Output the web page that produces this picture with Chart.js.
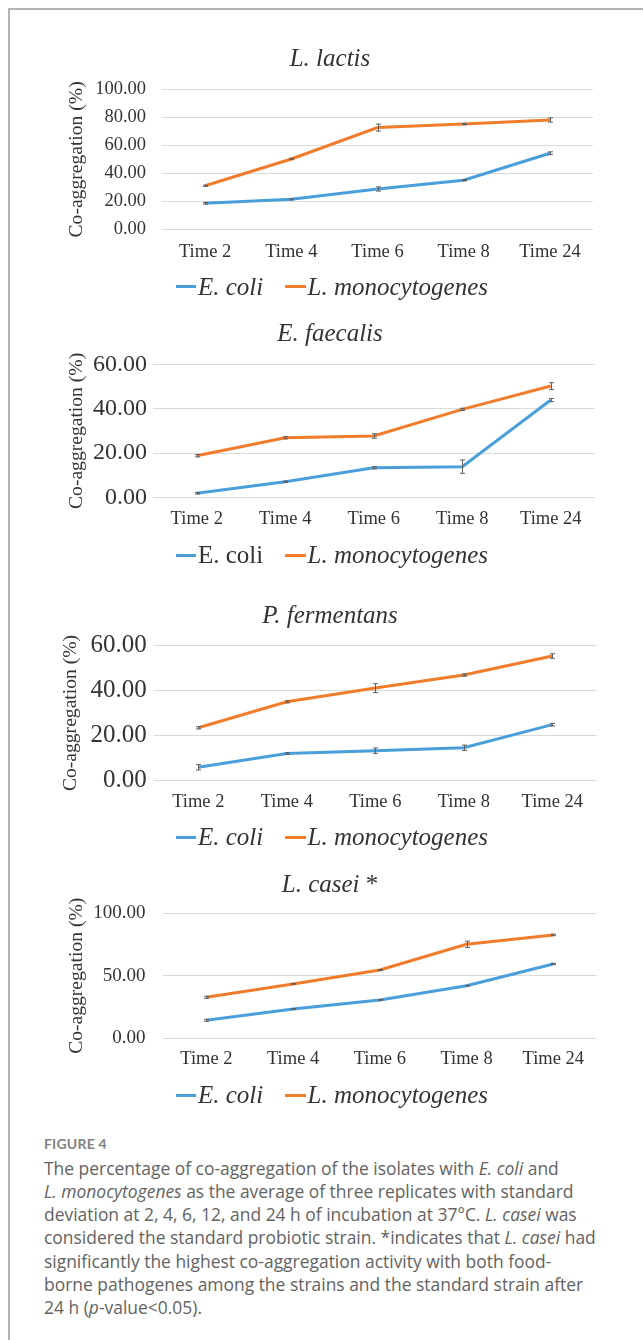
<!DOCTYPE html>
<html><head><meta charset="utf-8">
<script src="https://cdn.jsdelivr.net/npm/chart.js@4.4.0/dist/chart.umd.min.js"></script>
<style>
html,body{margin:0;padding:0;background:#fff;width:643px;height:1340px;overflow:hidden;position:relative}
#card{position:absolute;left:8px;top:8px;width:700px;height:1400px;border-left:2px solid #b4b4b4;border-top:2px solid #b4b4b4;box-sizing:border-box}
canvas{position:absolute;left:0}
.t{position:absolute;font-family:"Liberation Serif","Times New Roman",serif;color:#333;white-space:nowrap}
.ttl{font-size:25px;line-height:30px;font-style:italic;transform:translateX(-50%)}
.lg{font-size:25px;line-height:30px}
.ln{position:absolute;height:3px}
#fig{position:absolute;left:44px;font-family:Lato,"Open Sans",sans-serif;font-weight:700;font-size:14px;line-height:18px;color:#828282;letter-spacing:0.2px}
#cap{position:absolute;left:44px;font-family:"Open Sans",Lato,sans-serif;font-size:16px;line-height:23.3px;color:#636363;white-space:nowrap}
</style></head>
<body>
<div id="card"></div>
<div id="wrap"></div>
<div id="fig" style="top:1135px">FIGURE 4</div>
<div id="cap" style="top:1156.5px">The percentage of co-aggregation of the isolates with <i>E. coli</i> and<br><i>L. monocytogenes</i> as the average of three replicates with standard<br>deviation at 2, 4, 6, 12, and 24 h of incubation at 37°C. <i>L. casei</i> was<br>considered the standard probiotic strain. *indicates that <i>L. casei</i> had<br>significantly the highest co-aggregation activity with both food-<br><span id="fitline">borne pathogenes among the strains and the standard strain after</span><br>24 h (<i>p</i>-value&lt;0.05).</div>
<script>
// ---- data ----
const categories = ["Time 2","Time 4","Time 6","Time 8","Time 24"];
const seriesNames = ["E. coli","L. monocytogenes"];
const chartTitles = ["L. lactis","E. faecalis","P. fermentans","L. casei"];
const yAxisTitle = "Co-aggregation (%)";

const lactisEcoli      = [18.7, 21.5, 28.9, 35.2, 54.4];
const lactisEcoliSD    = [0.5, 0.4, 1.5, 0.4, 1.0];
const lactisListeria   = [31.2, 50.3, 72.7, 75.2, 78.1];
const lactisListeriaSD = [0.4, 0.5, 2.5, 0.4, 1.5];

const faecalisEcoli      = [1.9, 7.1, 13.4, 13.9, 43.9];
const faecalisEcoliSD    = [0.3, 0.3, 0.5, 3.0, 0.7];
const faecalisListeria   = [18.8, 26.9, 27.7, 39.7, 50.2];
const faecalisListeriaSD = [0.5, 0.5, 1.0, 0.5, 1.5];

const fermentansEcoli      = [5.8, 11.9, 13.2, 14.5, 24.8];
const fermentansEcoliSD    = [1.2, 0.4, 1.2, 1.2, 0.6];
const fermentansListeria   = [23.4, 35.0, 41.1, 46.9, 55.4];
const fermentansListeriaSD = [0.5, 0.5, 2.0, 0.5, 1.0];

const caseiEcoli      = [14.4, 23.5, 30.7, 42.1, 59.5];
const caseiEcoliSD    = [0.8, 0.3, 0.3, 0.3, 0.5];
const caseiListeria   = [32.8, 43.5, 54.7, 75.2, 82.7];
const caseiListeriaSD = [0.8, 0.3, 0.3, 2.5, 0.6];

const ticksLactis = ["0.00","20.00","40.00","60.00","80.00","100.00"];
const ticksFaecalis = ["0.00","20.00","40.00","60.00"];
const ticksFermentans = ["0.00","20.00","40.00","60.00"];
const ticksCasei = ["0.00","50.00","100.00"];

// ---- styling / layout ----
const colors = ["#4a9fdb", "#f07c2c"];
const layouts = [
  {plotL:162, plotR:593, plotT:89.3, plotB:229.5, tickSize:18.5, yPad:16, xPad:11.4, ytX:77, titleY:58.3, legendY:286.7, ecoliItalic:true, star:false},
  {plotL:152.5, plotR:595, plotT:364.3, plotB:497.5, tickSize:24, yPad:5.5, xPad:10.7, ytX:77, titleY:333.3, legendY:555, ecoliItalic:false, star:false},
  {plotL:154, plotR:596.6, plotT:645.7, plotB:780.3, tickSize:25, yPad:7.2, xPad:10.3, ytX:70.5, titleY:615, legendY:837.3, ecoliItalic:true, star:false},
  {plotL:163, plotR:596.6, plotT:913.3, plotB:1038.3, tickSize:19, yPad:17.5, xPad:9.9, ytX:77, titleY:884, legendY:1095, ecoliItalic:true, star:true}
];
const chartData = [
  {e:lactisEcoli, eSD:lactisEcoliSD, l:lactisListeria, lSD:lactisListeriaSD, ticks:ticksLactis},
  {e:faecalisEcoli, eSD:faecalisEcoliSD, l:faecalisListeria, lSD:faecalisListeriaSD, ticks:ticksFaecalis},
  {e:fermentansEcoli, eSD:fermentansEcoliSD, l:fermentansListeria, lSD:fermentansListeriaSD, ticks:ticksFermentans},
  {e:caseiEcoli, eSD:caseiEcoliSD, l:caseiListeria, lSD:caseiListeriaSD, ticks:ticksCasei}
];

// fit caption font so that the reference line width is matched
(function(){
  const span = document.getElementById('fitline');
  const w = span.getBoundingClientRect().width;
  if (w > 0) document.getElementById('cap').style.fontSize = (16 * 540 / w).toFixed(2) + 'px';
})();

const errorBars = {
  id:'errorBars',
  afterDatasetsDraw(chart){
    const ctx = chart.ctx, xs = chart.scales.x, ys = chart.scales.y;
    ctx.save();
    ctx.strokeStyle = '#5e5e5e';
    ctx.lineWidth = 1;
    chart.data.datasets.forEach(ds => {
      (ds.errors||[]).forEach((err, i) => {
        const x = Math.round(xs.getPixelForValue(i)) + 0.5;
        const y1 = ys.getPixelForValue(ds.data[i] - err);
        const y2 = ys.getPixelForValue(ds.data[i] + err);
        ctx.beginPath();
        ctx.moveTo(x, y1); ctx.lineTo(x, y2);
        ctx.moveTo(x-2.5, y1); ctx.lineTo(x+2.5, y1);
        ctx.moveTo(x-2.5, y2); ctx.lineTo(x+2.5, y2);
        ctx.stroke();
      });
    });
    ctx.restore();
  }
};

const wrap = document.getElementById('wrap');
const FONT = '"Liberation Serif","Times New Roman",serif';
const YT_SIZE = 19.6;

layouts.forEach((L, k) => {
  const D = chartData[k];
  const cTop = Math.floor(L.plotT - 30);
  const padTop = L.plotT - cTop;
  const xH = 45;
  const cH = Math.ceil(L.plotB - cTop + xH);
  const canvas = document.createElement('canvas');
  canvas.width = 643; canvas.height = cH;
  canvas.style.top = cTop + 'px';
  canvas.style.width = '643px'; canvas.style.height = cH + 'px';
  wrap.appendChild(canvas);

  const tickVals = D.ticks.map(parseFloat);
  const lhY = YT_SIZE * 1.2;
  new Chart(canvas, {
    type:'line',
    data:{
      labels:categories,
      datasets:[
        {label:seriesNames[0], data:D.e, errors:D.eSD, borderColor:colors[0], backgroundColor:colors[0], borderWidth:3, pointRadius:0, tension:0},
        {label:seriesNames[1], data:D.l, errors:D.lSD, borderColor:colors[1], backgroundColor:colors[1], borderWidth:3, pointRadius:0, tension:0}
      ]
    },
    options:{
      responsive:false, animation:false, devicePixelRatio:1,
      layout:{padding:{top:padTop, left:0, right:643 - L.plotR, bottom:cH - (L.plotB - cTop) - xH}},
      plugins:{legend:{display:false}, title:{display:false}, tooltip:{enabled:false}},
      scales:{
        x:{
          offset:true,
          grid:{display:false, drawTicks:false},
          border:{display:false},
          ticks:{color:'#333', padding:L.xPad, maxRotation:0, autoSkip:false, font:{family:FONT, size:18.5}},
          afterFit(s){ s.height = xH; }
        },
        y:{
          min:tickVals[0], max:tickVals[tickVals.length-1],
          afterBuildTicks(s){ s.ticks = tickVals.map(v => ({value:v})); },
          grid:{color:'#dadada', lineWidth:1, drawTicks:false},
          border:{display:false},
          ticks:{color:'#333', padding:L.yPad, font:{family:FONT, size:L.tickSize},
                 callback:(v, i) => D.ticks[i]},
          title:{display:true, text:yAxisTitle, color:'#333', font:{family:FONT, size:YT_SIZE, lineHeight:1.2},
                 padding:{top:L.ytX - lhY/2, bottom:0}},
          afterFit(s){ s.width = L.plotL; }
        }
      }
    },
    plugins:[errorBars]
  });

  // title
  const t = document.createElement('div');
  t.className = 't ttl';
  t.style.left = '330px';
  t.style.top = (L.titleY - 15) + 'px';
  t.innerHTML = chartTitles[k] + (L.star ? '<span style="font-style:normal"> *</span>' : '');
  wrap.appendChild(t);

  // legend
  const lineL = [175.5, 285], textL = [198, 307.5];
  seriesNames.forEach((name, i) => {
    const ln = document.createElement('div');
    ln.className = 'ln';
    ln.style.left = lineL[i] + 'px';
    ln.style.width = '20.5px';
    ln.style.top = (L.legendY - 1.5) + 'px';
    ln.style.background = colors[i];
    wrap.appendChild(ln);
    const tx = document.createElement('div');
    tx.className = 't lg';
    tx.style.left = textL[i] + 'px';
    tx.style.top = (L.legendY - 15) + 'px';
    tx.style.fontStyle = (i === 0 && !L.ecoliItalic) ? 'normal' : 'italic';
    tx.textContent = name;
    wrap.appendChild(tx);
  });
});
</script>
</body></html>
